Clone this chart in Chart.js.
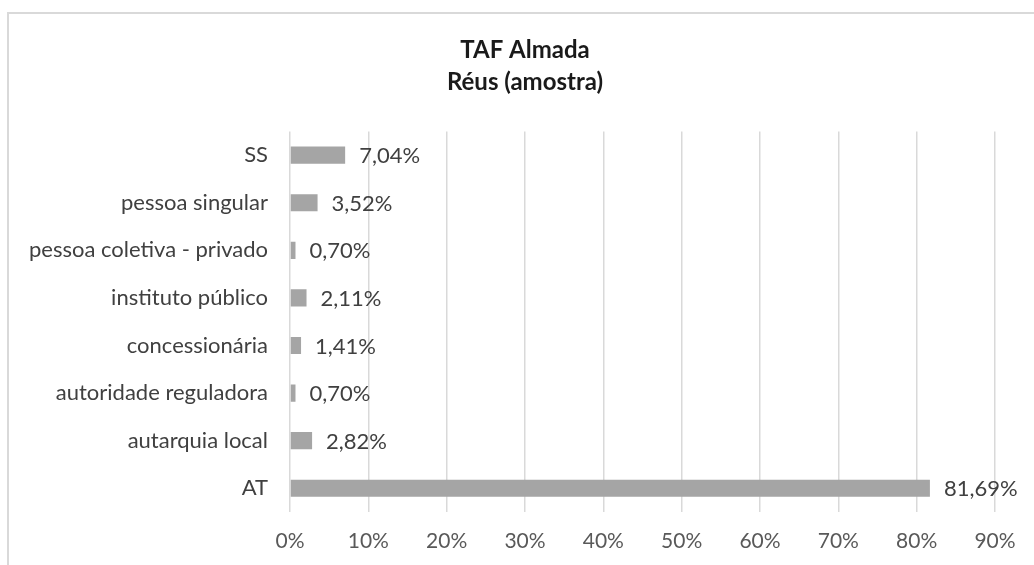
<!DOCTYPE html>
<html>
<head>
<meta charset="utf-8">
<script src="https://cdn.jsdelivr.net/npm/chart.js@4.4.1/dist/chart.umd.min.js"></script>
<style>
    html, body { margin: 0; padding: 0; background: #fff; overflow: hidden; }
    #wrap { position: relative; width: 1034px; height: 565px; overflow: hidden; }
    #frame { position: absolute; left: 7px; top: 12px; width: 1100px; height: 700px; border: 2px solid #d9d9d9; box-sizing: border-box; }
    canvas { position: absolute; left: 0; top: 0; }
</style>
</head>
<body>
<div id="wrap">
    <div id="frame"></div>
    <canvas id="chart" width="1050" height="565"></canvas>
</div>
<script>
//Categories from top to bottom, as in the picture
const categories = ['SS', 'pessoa singular', 'pessoa coletiva - privado', 'instituto público', 'concessionária', 'autoridade reguladora', 'autarquia local', 'AT'];
//Share of each category (%)
const shares = [7.04, 3.52, 0.70, 2.11, 1.41, 0.70, 2.82, 81.69];
const titleLines = ['TAF Almada', 'Réus (amostra)'];
const FONT = 'Lato, "Open Sans", sans-serif';

//Draws the value next to the end of each bar
const barValueLabels = {
    id: 'barValueLabels',
    afterDatasetsDraw(chart) {
        let ctx = chart.ctx;
        let meta = chart.getDatasetMeta(0);
        ctx.save();
        ctx.font = '22px ' + FONT;
        ctx.fillStyle = '#404040';
        ctx.textAlign = 'left';
        ctx.textBaseline = 'middle';
        meta.data.forEach((bar, i) => {
            let text = shares[i].toFixed(2).replace('.', ',') + '%';
            ctx.fillText(text, bar.x + 14, bar.y + 1);
        });
        ctx.restore();
    }
};

new Chart(document.getElementById('chart'), {
    type: 'bar',
    data: {
        labels: categories,
        datasets: [{
            data: shares,
            backgroundColor: '#a5a5a5',
            barPercentage: 0.72,
            categoryPercentage: 0.5
        }]
    },
    options: {
        indexAxis: 'y',
        responsive: false,
        animation: false,
        layout: { padding: 0 },
        plugins: {
            legend: { display: false },
            tooltip: { enabled: false },
            title: {
                display: true,
                text: titleLines,
                color: '#1a1a1a',
                font: { family: FONT, size: 24, weight: 'bold', lineHeight: 1.3 },
                padding: { top: 35, bottom: 34 }
            }
        },
        scales: {
            x: {
                min: 0,
                max: 90,
                ticks: {
                    stepSize: 10,
                    color: '#595959',
                    font: { family: FONT, size: 21 },
                    padding: 17,
                    callback: (v) => v + '%'
                },
                grid: { color: '#d9d9d9', lineWidth: 1.5, drawTicks: false },
                border: { display: false },
                afterFit: (scale) => { scale.height = 53; }
            },
            y: {
                ticks: {
                    color: '#404040',
                    font: { family: FONT, size: 22 },
                    padding: 14
                },
                grid: { display: false },
                border: { display: false },
                afterFit: (scale) => { scale.width = 290; }
            },
            //Empty axis on the right, only to keep room for the value labels
            yRight: {
                type: 'category',
                position: 'right',
                ticks: { display: false },
                grid: { display: false },
                border: { display: false },
                afterFit: (scale) => { scale.width = 55; }
            }
        }
    },
    plugins: [barValueLabels]
});
</script>
</body>
</html>
